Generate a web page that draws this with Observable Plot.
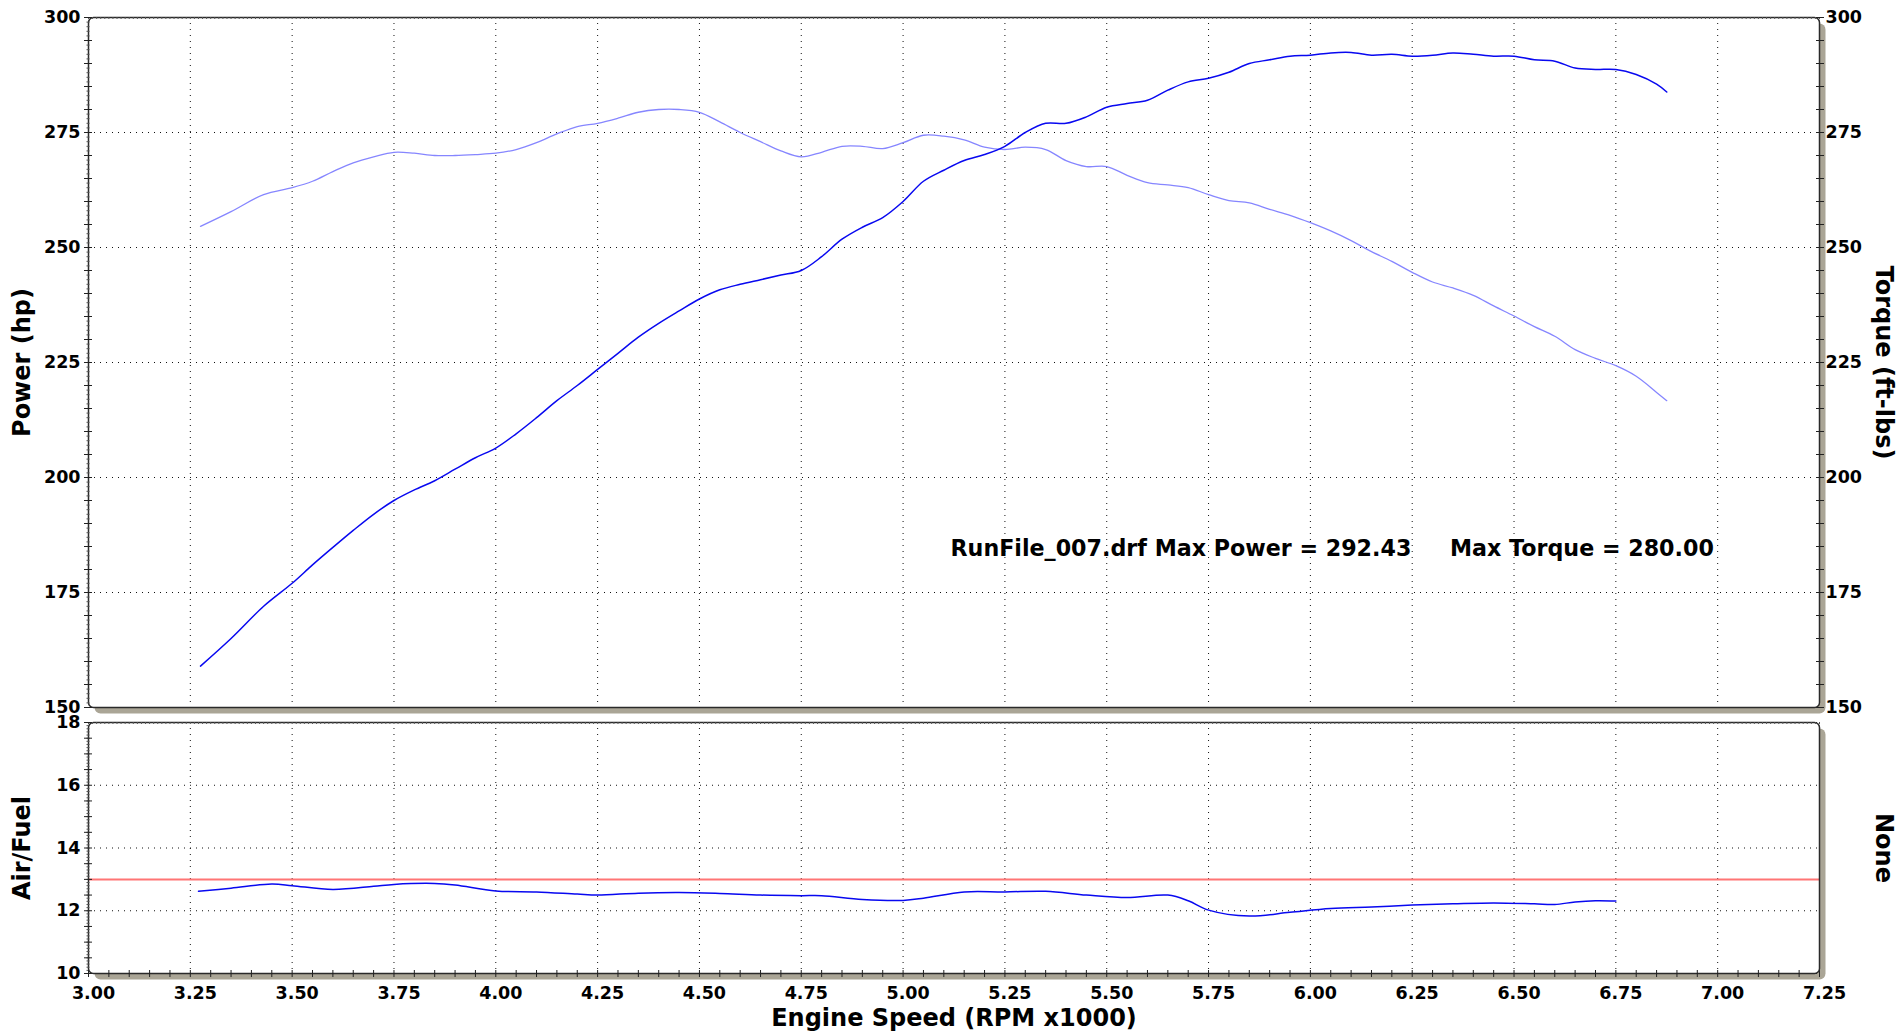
<!DOCTYPE html>
<html><head><meta charset="utf-8">
<script src="https://cdn.jsdelivr.net/npm/d3@7"></script>
<script src="https://cdn.jsdelivr.net/npm/@observablehq/plot@0.6"></script>
<style>
html,body{margin:0;padding:0;background:#fff;overflow:hidden;}
#chart{position:relative;width:1896px;height:1031px;}
#chart svg{position:absolute;left:0;max-width:none;overflow:visible;}
#chart svg text{font-weight:bold;}
</style></head><body><div id="chart"></div>
<script>
// ---- data ----
const rpm = [3.275,3.35,3.43,3.50,3.55,3.60,3.65,3.70,3.75,3.80,3.85,3.90,3.95,4.00,4.05,4.10,4.15,4.20,4.25,4.30,4.35,4.40,4.45,4.50,4.55,4.60,4.65,4.70,4.75,4.80,4.85,4.90,4.95,5.00,5.05,5.10,5.15,5.20,5.25,5.30,5.35,5.40,5.45,5.50,5.55,5.60,5.65,5.70,5.75,5.80,5.85,5.90,5.95,6.00,6.05,6.10,6.15,6.20,6.25,6.30,6.35,6.40,6.45,6.50,6.55,6.60,6.65,6.70,6.75,6.80,6.85,6.875];
const powerHp = [159.0,165.0,172.0,177.0,181.0,184.8,188.5,192.0,195.0,197.3,199.3,201.8,204.3,206.4,209.5,213.0,216.7,220.0,223.5,227.0,230.5,233.5,236.2,238.8,240.8,242.0,243.0,244.0,245.0,248.0,251.8,254.4,256.5,260.0,264.4,266.8,268.9,270.2,272.0,275.0,277.0,277.0,278.4,280.5,281.3,282.0,284.2,286.0,286.8,288.1,290.0,290.8,291.6,291.8,292.3,292.4,291.8,292.0,291.6,291.8,292.3,292.0,291.6,291.6,290.8,290.5,289.0,288.7,288.7,287.6,285.5,283.8];
const torqueFtLbs = [254.6,257.8,261.5,263.0,264.4,266.5,268.4,269.7,270.7,270.5,270.0,270.0,270.2,270.5,271.3,272.8,274.7,276.3,277.0,278.1,279.4,280.0,280.0,279.4,277.3,275.0,273.0,271.0,269.7,270.7,272.0,272.0,271.5,272.8,274.4,274.2,273.4,271.8,271.3,271.8,271.3,268.9,267.6,267.6,265.7,264.1,263.6,263.0,261.5,260.2,259.7,258.3,257.0,255.4,253.6,251.5,249.1,247.0,244.6,242.5,241.2,239.6,237.3,235.1,232.8,230.7,227.8,225.9,224.3,222.0,218.5,216.7];
const afrRpm = [3.27,3.35,3.45,3.50,3.60,3.70,3.75,3.85,3.90,4.00,4.10,4.20,4.25,4.35,4.45,4.55,4.65,4.75,4.80,4.90,5.00,5.05,5.15,5.25,5.35,5.45,5.55,5.65,5.70,5.75,5.85,5.95,6.05,6.15,6.25,6.35,6.45,6.55,6.60,6.65,6.70,6.75];
const airFuel = [12.62,12.72,12.85,12.80,12.68,12.78,12.84,12.87,12.82,12.63,12.60,12.53,12.50,12.56,12.58,12.55,12.50,12.48,12.48,12.36,12.33,12.40,12.60,12.60,12.62,12.50,12.42,12.50,12.32,12.02,11.83,11.95,12.07,12.12,12.18,12.22,12.25,12.22,12.20,12.28,12.32,12.31];
const xTickLabels = ["3.00","3.25","3.50","3.75","4.00","4.25","4.50","4.75","5.00","5.25","5.50","5.75","6.00","6.25","6.50","6.75","7.00","7.25"];
const powerTicks = [150,175,200,225,250,275,300];
const afrTicks = [10,12,14,16,18];
const targetAfr = [13];
const annotation = ["RunFile_007.drf Max Power = 292.43     Max Torque = 280.00"];
const titles = {power:"Power (hp)", torque:"Torque (ft-lbs)", afr:"Air/Fuel", none:"None", x:"Engine Speed (RPM x1000)"};

// ---- derived ----
const xTicks = xTickLabels.map(Number);
const xDomain = [xTicks[0], xTicks[xTicks.length-1]];
const topData = rpm.map((r,i)=>({rpm:r, power:powerHp[i], torque:torqueFtLbs[i]}));
const afrData = afrRpm.map((r,i)=>({rpm:r, afr:airFuel[i]}));
const majorTop = d3.range(150, 300.01, 5);
const minorTop = d3.range(150, 300.01, 1);
const halfAfr = d3.range(10, 18.01, 0.5);
const minorAfr = d3.range(10, 18.01, 0.1);
const xMinor = d3.range(3, 7.2501, 0.05);
const xFine = d3.range(3, 7.2501, 0.01);

const FONT = "'DejaVu Sans', Verdana, sans-serif";
const grid = {stroke:"#111", strokeWidth:1, strokeDasharray:"1,5"};
const titleStyle = {text:d=>d, fontSize:24, fontWeight:"bold", fill:"#000", textAnchor:"middle", lineAnchor:"middle"};
const shadow = () => Plot.frame({fill:"#aaa596", stroke:null, dx:6, dy:6, rx:6});
const paper = () => Plot.frame({fill:"#fff", stroke:null, rx:5});
const border = () => Plot.frame({stroke:"#2a2a2a", strokeWidth:1.5, rx:5});
const ticksX = (data, o) => Plot.axisX(data, {fill:"none", label:null, tickFormat:null, ...o});
const ticksY = (data, o) => Plot.axisY(data, {fill:"none", label:null, ...o});
const textY = (data, o) => Plot.axisY(data, {tickSize:0, label:null, fill:"#000", fontSize:17.5, fontWeight:"bold", ...o});
const textX = (data, o) => Plot.axisX(data, {tickSize:0, label:null, fill:"#000", fontSize:17.5, fontWeight:"bold", ...o});

const topPlot = Plot.plot({
  width:1896, height:715,
  marginTop:17, marginBottom:8, marginLeft:88, marginRight:77,
  x:{domain:xDomain, axis:null},
  y:{domain:[150,300], axis:null},
  style:{fontFamily:FONT, fontWeight:"bold", fontSize:"17px", color:"#000", background:"transparent"},
  marks:[
    shadow(), paper(),
    Plot.ruleX(xTicks, grid),
    Plot.ruleY(powerTicks, grid),
    Plot.line(topData, {x:"rpm", y:"torque", stroke:"#8686ff", strokeWidth:1.3, curve:"catmull-rom"}),
    Plot.line(topData, {x:"rpm", y:"power", stroke:"#0808f0", strokeWidth:1.5, curve:"catmull-rom"}),
    border(),
    ticksX(xFine, {anchor:"top", tickSize:2, dy:1, stroke:"#555"}),
    ticksY(minorTop, {anchor:"left", tickSize:3, dx:1.5, stroke:"#555"}),
    ticksY(majorTop, {anchor:"left", tickSize:8, dx:4, stroke:"#222"}),
    ticksY(majorTop, {anchor:"right", tickSize:8, dx:-4, stroke:"#222"}),
    textY(powerTicks, {anchor:"left", tickPadding:8}),
    textY(powerTicks, {anchor:"right", tickPadding:6}),
    Plot.text(annotation, {text:d=>d, frameAnchor:"left", dx:862, dy:186, textAnchor:"start", lineAnchor:"middle",
      fontFamily:FONT, fontSize:22.2, fontWeight:"bold", fill:"#000"}),
    Plot.text([titles.power], {...titleStyle, frameAnchor:"left", dx:-66, rotate:-90}),
    Plot.text([titles.torque], {...titleStyle, frameAnchor:"right", dx:64, rotate:90})
  ]
});

const bottomPlot = Plot.plot({
  width:1896, height:316,
  marginTop:7, marginBottom:58, marginLeft:88, marginRight:77,
  x:{domain:xDomain, axis:null},
  y:{domain:[10,18], axis:null},
  style:{fontFamily:FONT, fontWeight:"bold", fontSize:"17px", color:"#000", background:"transparent"},
  marks:[
    shadow(), paper(),
    Plot.ruleX(xTicks, grid),
    Plot.ruleY(afrTicks, grid),
    Plot.ruleY(targetAfr, {stroke:"#ff7575", strokeWidth:2}),
    Plot.line(afrData, {x:"rpm", y:"afr", stroke:"#0808f0", strokeWidth:1.5, curve:"catmull-rom"}),
    border(),
    ticksX(xFine, {anchor:"top", tickSize:2, dy:1, stroke:"#555"}),
    ticksY(minorAfr, {anchor:"left", tickSize:3, dx:1.5, stroke:"#555"}),
    ticksY(halfAfr, {anchor:"left", tickSize:8, dx:4, stroke:"#222"}),
    ticksX(xMinor, {anchor:"bottom", tickSize:7, dy:-3, stroke:"#222"}),
    textY(afrTicks, {anchor:"left", tickPadding:8}),
    textX(xTicks, {anchor:"bottom", tickPadding:13, dx:5, tickFormat:d3.format(".2f")}),
    Plot.text([titles.afr], {...titleStyle, frameAnchor:"left", dx:-66, rotate:-90}),
    Plot.text([titles.none], {...titleStyle, frameAnchor:"right", dx:64, rotate:90}),
    Plot.text([titles.x], {...titleStyle, frameAnchor:"bottom", dy:45})
  ]
});

const chart = document.getElementById("chart");
topPlot.style.top = "0px";
bottomPlot.style.top = "715px";
chart.append(topPlot, bottomPlot);
</script>
</body></html>
